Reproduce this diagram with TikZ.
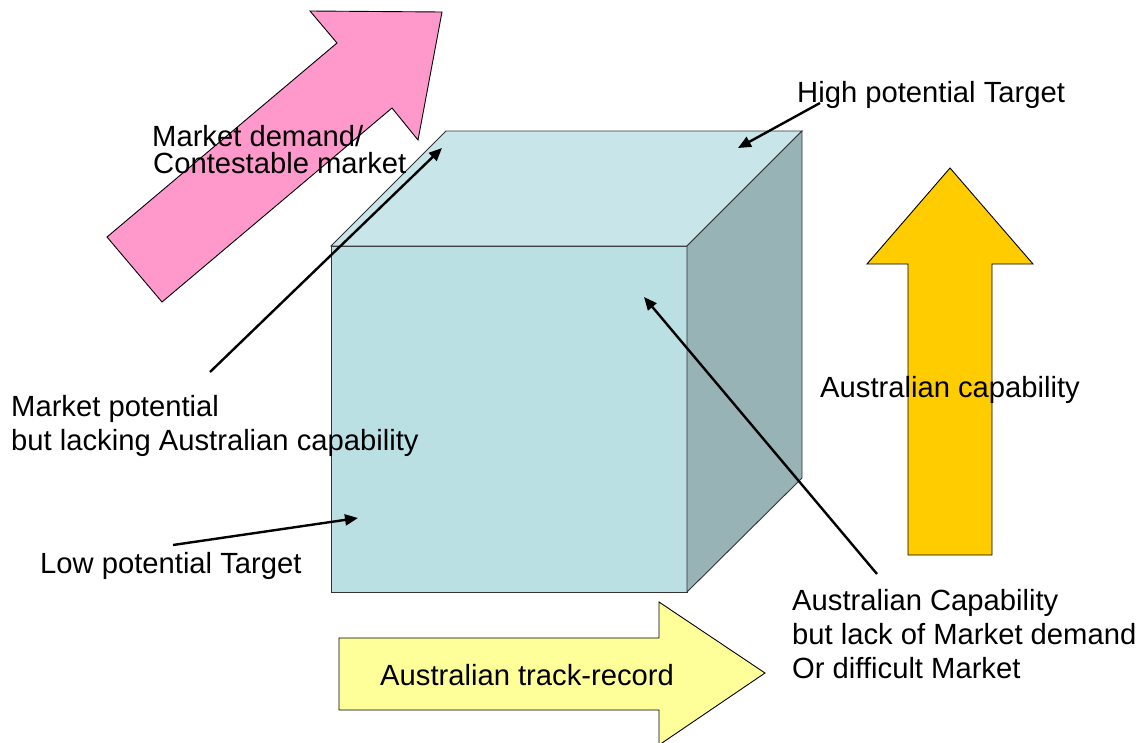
\documentclass[tikz,border=0pt]{standalone}
\usepackage{fontspec}
\setmainfont{Liberation Sans}
\usetikzlibrary{arrows.meta}
\definecolor{pinkA}{HTML}{FF99CC}
\definecolor{yellowA}{HTML}{FFFF99}
\definecolor{orangeA}{HTML}{FFCC00}
\definecolor{cubeFront}{HTML}{BAE0E4}
\definecolor{cubeTop}{HTML}{C8E6E9}
\definecolor{cubeSide}{HTML}{97B3B6}
\definecolor{edgeC}{HTML}{333333}
\begin{document}
\begin{tikzpicture}[x=1pt,y=-1pt,
  lbl/.style={font=\fontsize{29.2}{34}\selectfont, inner sep=0pt, anchor=base west},
  bigarrow/.style={draw=black, line width=0.9pt, line join=miter},
  face/.style={draw=edgeC, line width=0.9pt, line join=miter},
  conn/.style={draw=black, line width=2.4pt, -{Triangle[length=13pt,width=11pt]}}]
\useasboundingbox (0,0) rectangle (1143,742);
% big arrows
\fill[pinkA, bigarrow] (107,237) -- (337,43) -- (310,11) -- (442,12) -- (418,140) -- (392,108) -- (162,302) -- cycle;
\fill[yellowA, bigarrow] (339,638) -- (659,638) -- (659,602) -- (765,673) -- (659,745) -- (659,710) -- (339,710) -- cycle;
\fill[orangeA, bigarrow] (950,168) -- (1033,264) -- (992,264) -- (992,555) -- (908,555) -- (908,264) -- (867,264) -- cycle;
% cube
\fill[cubeFront, face] (331,246) rectangle (687,592);
\fill[cubeTop, face] (331,246) -- (446,131) -- (802,131) -- (687,246) -- cycle;
\fill[cubeSide, face] (687,246) -- (802,131) -- (802,478) -- (687,592) -- cycle;
% labels
\node[lbl] (md1) at (152,146) {Market demand/};
\node[lbl] (md2) at (153,173) {Contestable market};
\node[lbl] (hp) at (797,102) {High potential Target};
\node[lbl] (ac) at (820,397) {Australian capability};
\node[lbl] (mp1) at (11,416) {Market potential};
\node[lbl] (mp2) at (11,450) {but lacking Australian capability};
\node[lbl] (lp) at (40,573) {Low potential Target};
\node[lbl] (ac1) at (792,610) {Australian Capability};
\node[lbl] (ac2) at (792,644) {but lack of Market demand};
\node[lbl] (ac3) at (792,678) {Or difficult Market};
\node[lbl] (tr) at (380,685) {Australian track-record};
% connectors
\coordinate (mpS) at (210,372); \coordinate (mpE) at (442,148);
\coordinate (hpS) at (820,103); \coordinate (hpE) at (738,148);
\coordinate (acS) at (877,574); \coordinate (acE) at (644,297);
\coordinate (lpS) at (173,545); \coordinate (lpE) at (358,518);
\draw[conn] (mpS) -- (mpE);
\draw[conn] (hpS) -- (hpE);
\draw[conn] (acS) -- (acE);
\draw[conn] (lpS) -- (lpE);
\end{tikzpicture}
\end{document}
